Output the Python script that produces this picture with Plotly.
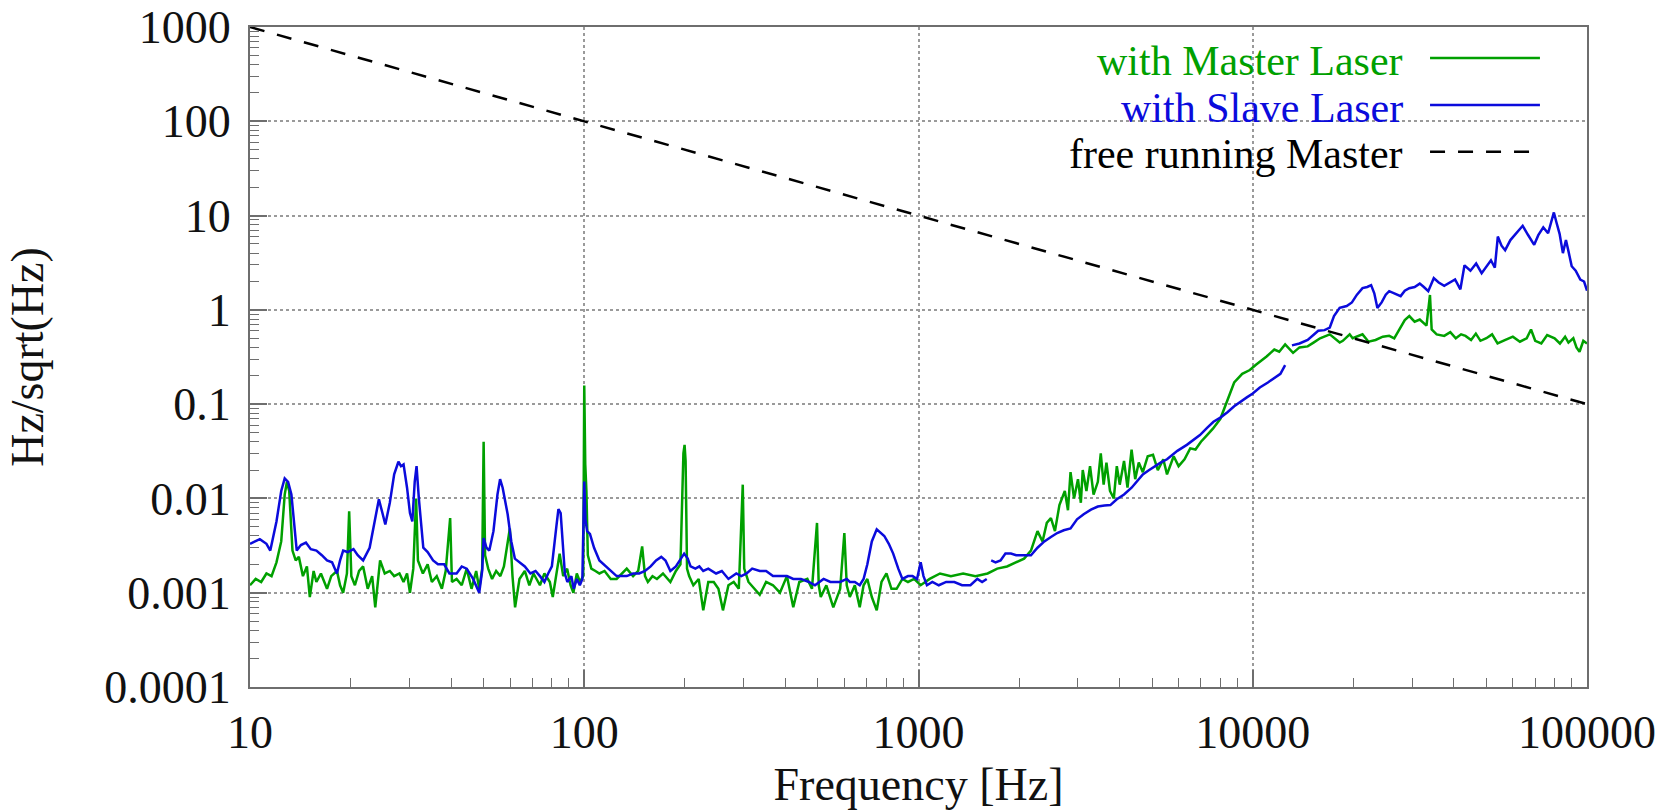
import plotly.graph_objects as go

# ---------------- data ----------------
master_freq = [
    10, 10.4, 10.8, 11.2, 11.6, 12.0, 12.4, 12.7, 12.9, 13.1, 13.4, 13.7, 14.0, 14.4, 14.8, 15.1,
    15.5, 15.8, 16.3, 17.0, 17.5, 18.2, 18.6, 19.0, 19.5, 19.8, 20.1, 20.6, 21.2, 21.8, 22.5, 23.2,
    23.7, 24.5, 25.3, 26.2, 27.0, 28.0, 28.8, 29.5, 30.1, 30.8, 31.4, 31.8, 32.9, 34.0, 35.0, 36.2,
    37.5, 38.5, 39.7, 40.2, 41.5, 43.0, 44.5, 46.0, 47.5, 48.5, 49.5, 50.0, 50.5, 51.6, 53.0, 54.5,
    56.1, 57.5, 59.9, 61.0, 62.1, 64.0, 66.4, 68.5, 70.5, 73.7, 76.0, 78.9, 80.5, 82.5, 84.4, 86.5,
    88.9, 91.0, 92.8, 95.0, 97.1, 99.3, 100.0, 100.7, 101.5, 102.5, 105, 108, 111, 115, 120, 125,
    130, 134, 140, 145, 149, 152, 155, 160, 165, 172, 181, 188, 194, 198, 199.6, 201,
    203, 206, 212, 220, 227, 235, 244, 252, 260, 270, 280, 290, 298, 301, 310, 322,
    335, 350, 367, 385, 404, 422, 440, 465, 480, 497, 503, 510, 530, 556, 583, 600,
    610, 623, 645, 667, 685, 703, 725, 750, 775, 802, 830, 860, 895, 930, 970, 1015,
    1080, 1160, 1250, 1360, 1480, 1610, 1720, 1840, 1950, 2070, 2170, 2270, 2350, 2420, 2490, 2560,
    2640, 2740, 2800, 2850, 2920, 3000, 3060, 3100, 3180, 3260, 3340, 3440, 3510, 3580, 3650, 3740,
    3840, 3920, 4000, 4120, 4220, 4340, 4450, 4560, 4690, 4850, 5030, 5200, 5400, 5540, 5800, 6000,
    6250, 6500, 6740, 7000, 7300, 7600, 8000, 8400, 8800, 9300, 9800, 10200, 10500, 11000, 11600, 12000,
    12500, 13200, 13800, 14600, 15200, 15900, 17000, 18200, 18600, 19500, 19900, 21300, 22200, 23300, 24500, 25600,
    26500, 27500, 28500, 29400, 30500, 31600, 32500, 33100, 33900, 34300, 35500, 37400, 39000, 40500, 42000, 43300,
    45000, 46500, 48000, 50000, 52000, 54000, 57000, 60000, 63000, 66000, 68000, 70000, 73000, 76000, 80000, 83000,
    86000, 88000, 91000, 93000, 95000, 97500, 100000,
]
master_val = [
    0.0012, 0.0014, 0.0013, 0.0016, 0.0015, 0.0021, 0.0035, 0.011, 0.015, 0.012, 0.0028, 0.0022, 0.0024, 0.0015, 0.0019, 0.0009,
    0.0017, 0.0013, 0.0016, 0.0011, 0.0015, 0.0017, 0.0012, 0.0010, 0.0016, 0.0073, 0.0015, 0.0012, 0.0017, 0.0019, 0.0011, 0.0015,
    0.0007, 0.0022, 0.0016, 0.0017, 0.0015, 0.0016, 0.0013, 0.0016, 0.0010, 0.0018, 0.010, 0.0022, 0.0016, 0.0020, 0.0013, 0.0015,
    0.0011, 0.0017, 0.0062, 0.0013, 0.0014, 0.0012, 0.0018, 0.0011, 0.0017, 0.0011, 0.0018, 0.040, 0.0025, 0.0018, 0.0014, 0.0017,
    0.0015, 0.0019, 0.0048, 0.0015, 0.0007, 0.0014, 0.0017, 0.0012, 0.0016, 0.0012, 0.0016, 0.0013, 0.0009, 0.0016, 0.0026, 0.0015,
    0.0018, 0.0012, 0.0010, 0.0016, 0.0013, 0.0015, 0.158, 0.023, 0.012, 0.0025, 0.0018, 0.0017, 0.0016, 0.0017, 0.0014, 0.0014,
    0.0016, 0.0018, 0.0015, 0.0017, 0.0031, 0.0015, 0.0013, 0.0015, 0.0014, 0.0016, 0.0013, 0.0017, 0.0020, 0.030, 0.037, 0.025,
    0.0018, 0.0015, 0.0012, 0.0014, 0.00065, 0.0013, 0.0013, 0.0011, 0.00065, 0.0012, 0.0013, 0.0011, 0.014, 0.0018, 0.0013, 0.0011,
    0.00095, 0.0013, 0.0012, 0.0010, 0.0015, 0.0007, 0.0013, 0.0014, 0.0011, 0.0055, 0.0012, 0.0009, 0.0012, 0.0007, 0.0011, 0.0043,
    0.0012, 0.0009, 0.0012, 0.0007, 0.0012, 0.0014, 0.0009, 0.00065, 0.0013, 0.0016, 0.0011, 0.0011, 0.0014, 0.0013, 0.0014, 0.0012,
    0.0014, 0.0016, 0.0015, 0.0016, 0.0015, 0.0016, 0.0018, 0.0019, 0.0021, 0.0023, 0.0028, 0.0045, 0.0035, 0.0055, 0.0062, 0.0045,
    0.0085, 0.012, 0.0075, 0.019, 0.010, 0.016, 0.009, 0.020, 0.012, 0.022, 0.011, 0.015, 0.030, 0.014, 0.024, 0.012,
    0.010, 0.022, 0.014, 0.025, 0.013, 0.033, 0.016, 0.024, 0.019, 0.028, 0.029, 0.020, 0.026, 0.018, 0.028, 0.022,
    0.026, 0.034, 0.033, 0.040, 0.047, 0.055, 0.070, 0.113, 0.17, 0.21, 0.23, 0.26, 0.28, 0.32, 0.38, 0.36,
    0.43, 0.35, 0.40, 0.41, 0.45, 0.50, 0.55, 0.45, 0.47, 0.55, 0.50, 0.55, 0.46, 0.48, 0.52, 0.53,
    0.50, 0.62, 0.78, 0.86, 0.75, 0.79, 0.72, 0.68, 1.44, 0.62, 0.55, 0.53, 0.58, 0.50, 0.55, 0.53,
    0.48, 0.56, 0.47, 0.50, 0.55, 0.44, 0.48, 0.52, 0.46, 0.50, 0.62, 0.47, 0.44, 0.54, 0.50, 0.44,
    0.52, 0.45, 0.50, 0.40, 0.36, 0.47, 0.44,
]

slave_freq = [
    10, 10.7, 11.2, 11.5, 12.0, 12.4, 12.7, 13.0, 13.3, 13.6, 13.8, 14.2, 14.7, 15.2, 15.8, 16.4,
    17.0, 17.6, 18.2, 18.6, 19.0, 19.6, 20.4, 21.0, 21.8, 22.8, 23.6, 24.3, 24.9, 25.4, 26.2, 27.0,
    27.8, 28.3, 28.8, 29.5, 30.1, 30.6, 31.1, 31.5, 32.0, 33.0, 34.0, 35.3, 36.5, 38.1, 39.5, 41.5,
    43.0, 44.5, 46.5, 48.5, 49.5, 50.0, 51.0, 52.0, 53.5, 55.0, 56.0, 57.0, 59.0, 60.5, 62.0, 64.0,
    66.4, 69.0, 71.5, 73.7, 76.0, 78.0, 80.0, 82.5, 83.7, 85.0, 86.0, 87.5, 89.0, 91.5, 93.0, 95.0,
    97.0, 98.7, 99.5, 100.0, 100.8, 102.0, 104.0, 107.0, 111.0, 116.0, 120.0, 125.0, 130.0, 134.0, 140.0, 146.0,
    152.0, 158.0, 164.0, 170.0, 175.0, 181.0, 188.0, 194.0, 199.0, 204.0, 208.0, 215.0, 221.0, 227.0, 235.0, 248.0,
    258.0, 270.0, 285.0, 295.0, 306.0, 318.0, 335.0, 350.0, 367.0, 385.0, 404.0, 422.0, 445.0, 470.0, 490.0, 520.0,
    545.0, 583.0, 610.0, 623.0, 645.0, 667.0, 685.0, 703.0, 725.0, 750.0, 770.0, 790.0, 815.0, 840.0, 870.0, 895.0,
    930.0, 960.0, 990.0, 1015.0, 1035.0, 1060.0, 1100.0, 1150.0, 1210.0, 1280.0, 1350.0, 1430.0, 1500.0, 1550.0, 1600.0,
    None,
    1650, 1700, 1760, 1820, 1890, 1960, 2050, 2170, 2270, 2380, 2490, 2600, 2720, 2850, 2980, 3120,
    3280, 3440, 3600, 3750, 3920, 4120, 4340, 4500, 4690, 4900, 5100, 5300, 5540, 5950, 6350, 6950,
    7300, 7630, 8000, 8400, 8800, 9200, 9600, 10000, 10500, 11100, 11600, 12100, 12500,
    None,
    13100, 13800, 14600, 15200, 15700, 16400, 17000, 17500, 18200, 19100, 19800, 20500, 21300, 22000, 22600, 23100,
    23600, 24300, 25000, 25600, 26600, 27700, 28500, 29400, 30500, 31600, 32500, 33500, 34800, 36000, 37400, 38800,
    40300, 41800, 43000, 44800, 46600, 48400, 50000, 51600, 53000, 54100, 55500, 56900, 59000, 61000, 62500, 64200,
    66500, 69500, 71500, 74000, 76500, 78500, 79600, 81000, 82800, 84700, 86500, 88000, 90000, 92500, 95500, 98000,
    100000,
]
slave_val = [
    0.0033, 0.0037, 0.0033, 0.0028, 0.0057, 0.012, 0.0163, 0.015, 0.011, 0.0045, 0.0028, 0.0032, 0.0034, 0.0029, 0.0028, 0.0025,
    0.0022, 0.0021, 0.0016, 0.0022, 0.0028, 0.0027, 0.0029, 0.0025, 0.0022, 0.0030, 0.0060, 0.0098, 0.0070, 0.0053, 0.0090, 0.018,
    0.0245, 0.022, 0.023, 0.013, 0.0070, 0.0057, 0.015, 0.022, 0.010, 0.0030, 0.0027, 0.0022, 0.0020, 0.0020, 0.0016, 0.0016,
    0.0019, 0.0018, 0.0014, 0.0010, 0.0017, 0.0038, 0.0030, 0.0028, 0.0045, 0.011, 0.016, 0.013, 0.0068, 0.0035, 0.0023, 0.0021,
    0.0019, 0.0016, 0.0017, 0.0015, 0.0013, 0.0016, 0.0019, 0.0050, 0.0077, 0.0070, 0.0040, 0.0016, 0.0013, 0.0015, 0.0011, 0.0014,
    0.0012, 0.0014, 0.0060, 0.0151, 0.0060, 0.0045, 0.0042, 0.0030, 0.0022, 0.0019, 0.0017, 0.0015, 0.0015, 0.0015, 0.0016, 0.0016,
    0.0017, 0.0019, 0.0022, 0.0024, 0.0022, 0.0017, 0.0019, 0.0023, 0.0026, 0.0023, 0.0019, 0.0018, 0.0019, 0.0017, 0.0018, 0.0016,
    0.0017, 0.0014, 0.0016, 0.0015, 0.0016, 0.0018, 0.0017, 0.0017, 0.0015, 0.0015, 0.0015, 0.0014, 0.0014, 0.0013, 0.0012, 0.0014,
    0.0013, 0.0013, 0.0014, 0.0013, 0.0013, 0.0012, 0.0014, 0.0020, 0.0035, 0.0047, 0.0043, 0.0040, 0.0033, 0.0026, 0.0018, 0.0014,
    0.0015, 0.0015, 0.0014, 0.0021, 0.0015, 0.0012, 0.0013, 0.0012, 0.0013, 0.0013, 0.0012, 0.0012, 0.0014, 0.0013, 0.0014,
    None,
    0.0022, 0.0021, 0.0022, 0.0026, 0.0026, 0.0025, 0.0025, 0.0025, 0.0030, 0.0035, 0.0039, 0.0043, 0.0046, 0.0048, 0.0060, 0.0068,
    0.0076, 0.0082, 0.0084, 0.0085, 0.0098, 0.011, 0.013, 0.015, 0.018, 0.020, 0.022, 0.024, 0.026, 0.032, 0.037, 0.047,
    0.056, 0.065, 0.072, 0.082, 0.095, 0.105, 0.118, 0.13, 0.15, 0.17, 0.19, 0.21, 0.26,
    None,
    0.42, 0.44, 0.48, 0.55, 0.60, 0.61, 0.65, 0.86, 1.05, 1.10, 1.2, 1.45, 1.70, 1.75, 1.83, 1.5,
    1.05, 1.2, 1.45, 1.58, 1.5, 1.40, 1.6, 1.70, 1.75, 1.90, 1.75, 1.58, 2.17, 1.95, 1.80, 1.95,
    2.10, 1.65, 2.97, 2.6, 3.10, 2.45, 2.9, 3.36, 2.8, 6.0, 4.8, 4.3, 5.5, 6.3, 7.0, 7.8,
    6.3, 4.9, 6.2, 7.5, 6.5, 9.0, 10.8, 8.5, 6.4, 4.0, 5.5, 4.2, 2.9, 2.6, 2.1, 2.0,
    1.6,
]

free_freq = [10, 100000]
free_val = [1000, 0.1]

series_names = ["with Master Laser", "with Slave Laser", "free running Master"]
series_colors = ["#00a000", "#0b0bdc", "#000000"]

x_tick_vals = [10, 100, 1000, 10000, 100000]
x_tick_text = ["10", "100", "1000", "10000", "100000"]
y_tick_vals = [0.0001, 0.001, 0.01, 0.1, 1, 10, 100, 1000]
y_tick_text = ["0.0001", "0.001", "0.01", "0.1", "1", "10", "100", "1000"]

# minor tick positions (2..9 within each decade)
x_minor = [m * d for d in x_tick_vals[:-1] for m in range(2, 10)]
y_minor = [m * d for d in y_tick_vals[:-1] for m in range(2, 10)]

FONT = "Liberation Serif, Times New Roman, serif"
DASH = "15px,13px"
LW = 2.5

fig = go.Figure()
fig.add_trace(go.Scatter(x=master_freq, y=master_val, mode="lines", name=series_names[0],
                         line=dict(color=series_colors[0], width=LW), connectgaps=False))
fig.add_trace(go.Scatter(x=slave_freq, y=slave_val, mode="lines", name=series_names[1],
                         line=dict(color=series_colors[1], width=LW), connectgaps=False))
fig.add_trace(go.Scatter(x=free_freq, y=free_val, mode="lines", name=series_names[2],
                         line=dict(color=series_colors[2], width=LW, dash=DASH)))

axis_common = dict(
    type="log", showline=True, linecolor="#6e6e6e", linewidth=2, mirror=True,
    ticks="inside", ticklen=17, tickwidth=1.5, tickcolor="#6e6e6e",
    showgrid=True, gridcolor="#9a9a9a", gridwidth=1.5, griddash="dot",
    zeroline=False, tickfont=dict(family=FONT, size=46, color="#111111"),
    ticklabeloverflow="allow",
)

fig.update_xaxes(**axis_common, range=[1, 5], tickmode="array", tickvals=x_tick_vals,
                 ticktext=x_tick_text, ticklabelstandoff=4,
                 minor=dict(tickmode="array", tickvals=x_minor, ticks="inside", ticklen=9,
                            tickwidth=1.2, tickcolor="#6e6e6e", showgrid=False),
                 title=dict(text="Frequency [Hz]", font=dict(family=FONT, size=46, color="#111111"), standoff=16))
fig.update_yaxes(**axis_common, range=[-4, 3.0005], tickmode="array", tickvals=y_tick_vals,
                 ticktext=y_tick_text, ticklabelstandoff=8,
                 minor=dict(tickmode="array", tickvals=y_minor, ticks="inside", ticklen=9,
                            tickwidth=1.2, tickcolor="#6e6e6e", showgrid=False),
                 title=dict(text="Hz/sqrt(Hz)", font=dict(family=FONT, size=46, color="#111111"), standoff=46))

# custom legend (text right-aligned, line sample on the right, as in the original)
legend_rows = [0.953, 0.882, 0.811]
for name, color, yy, dash in zip(series_names, series_colors, legend_rows, [None, None, DASH]):
    fig.add_annotation(x=0.863, y=yy - 0.004, xref="paper", yref="paper", text=name, showarrow=False,
                       xanchor="right", yanchor="middle", borderpad=0,
                       font=dict(family=FONT, size=42, color=color))
    fig.add_shape(type="line", xref="paper", yref="paper", x0=0.8826, x1=0.9648, y0=yy, y1=yy,
                  line=dict(color=color, width=LW, dash=dash))

fig.update_layout(
    width=1670, height=810, showlegend=False,
    margin=dict(l=250, r=83, t=27, b=123, autoexpand=False),
    paper_bgcolor="white", plot_bgcolor="white",
    font=dict(family=FONT, size=46, color="#111111"),
)

fig.write_html("out.html")
